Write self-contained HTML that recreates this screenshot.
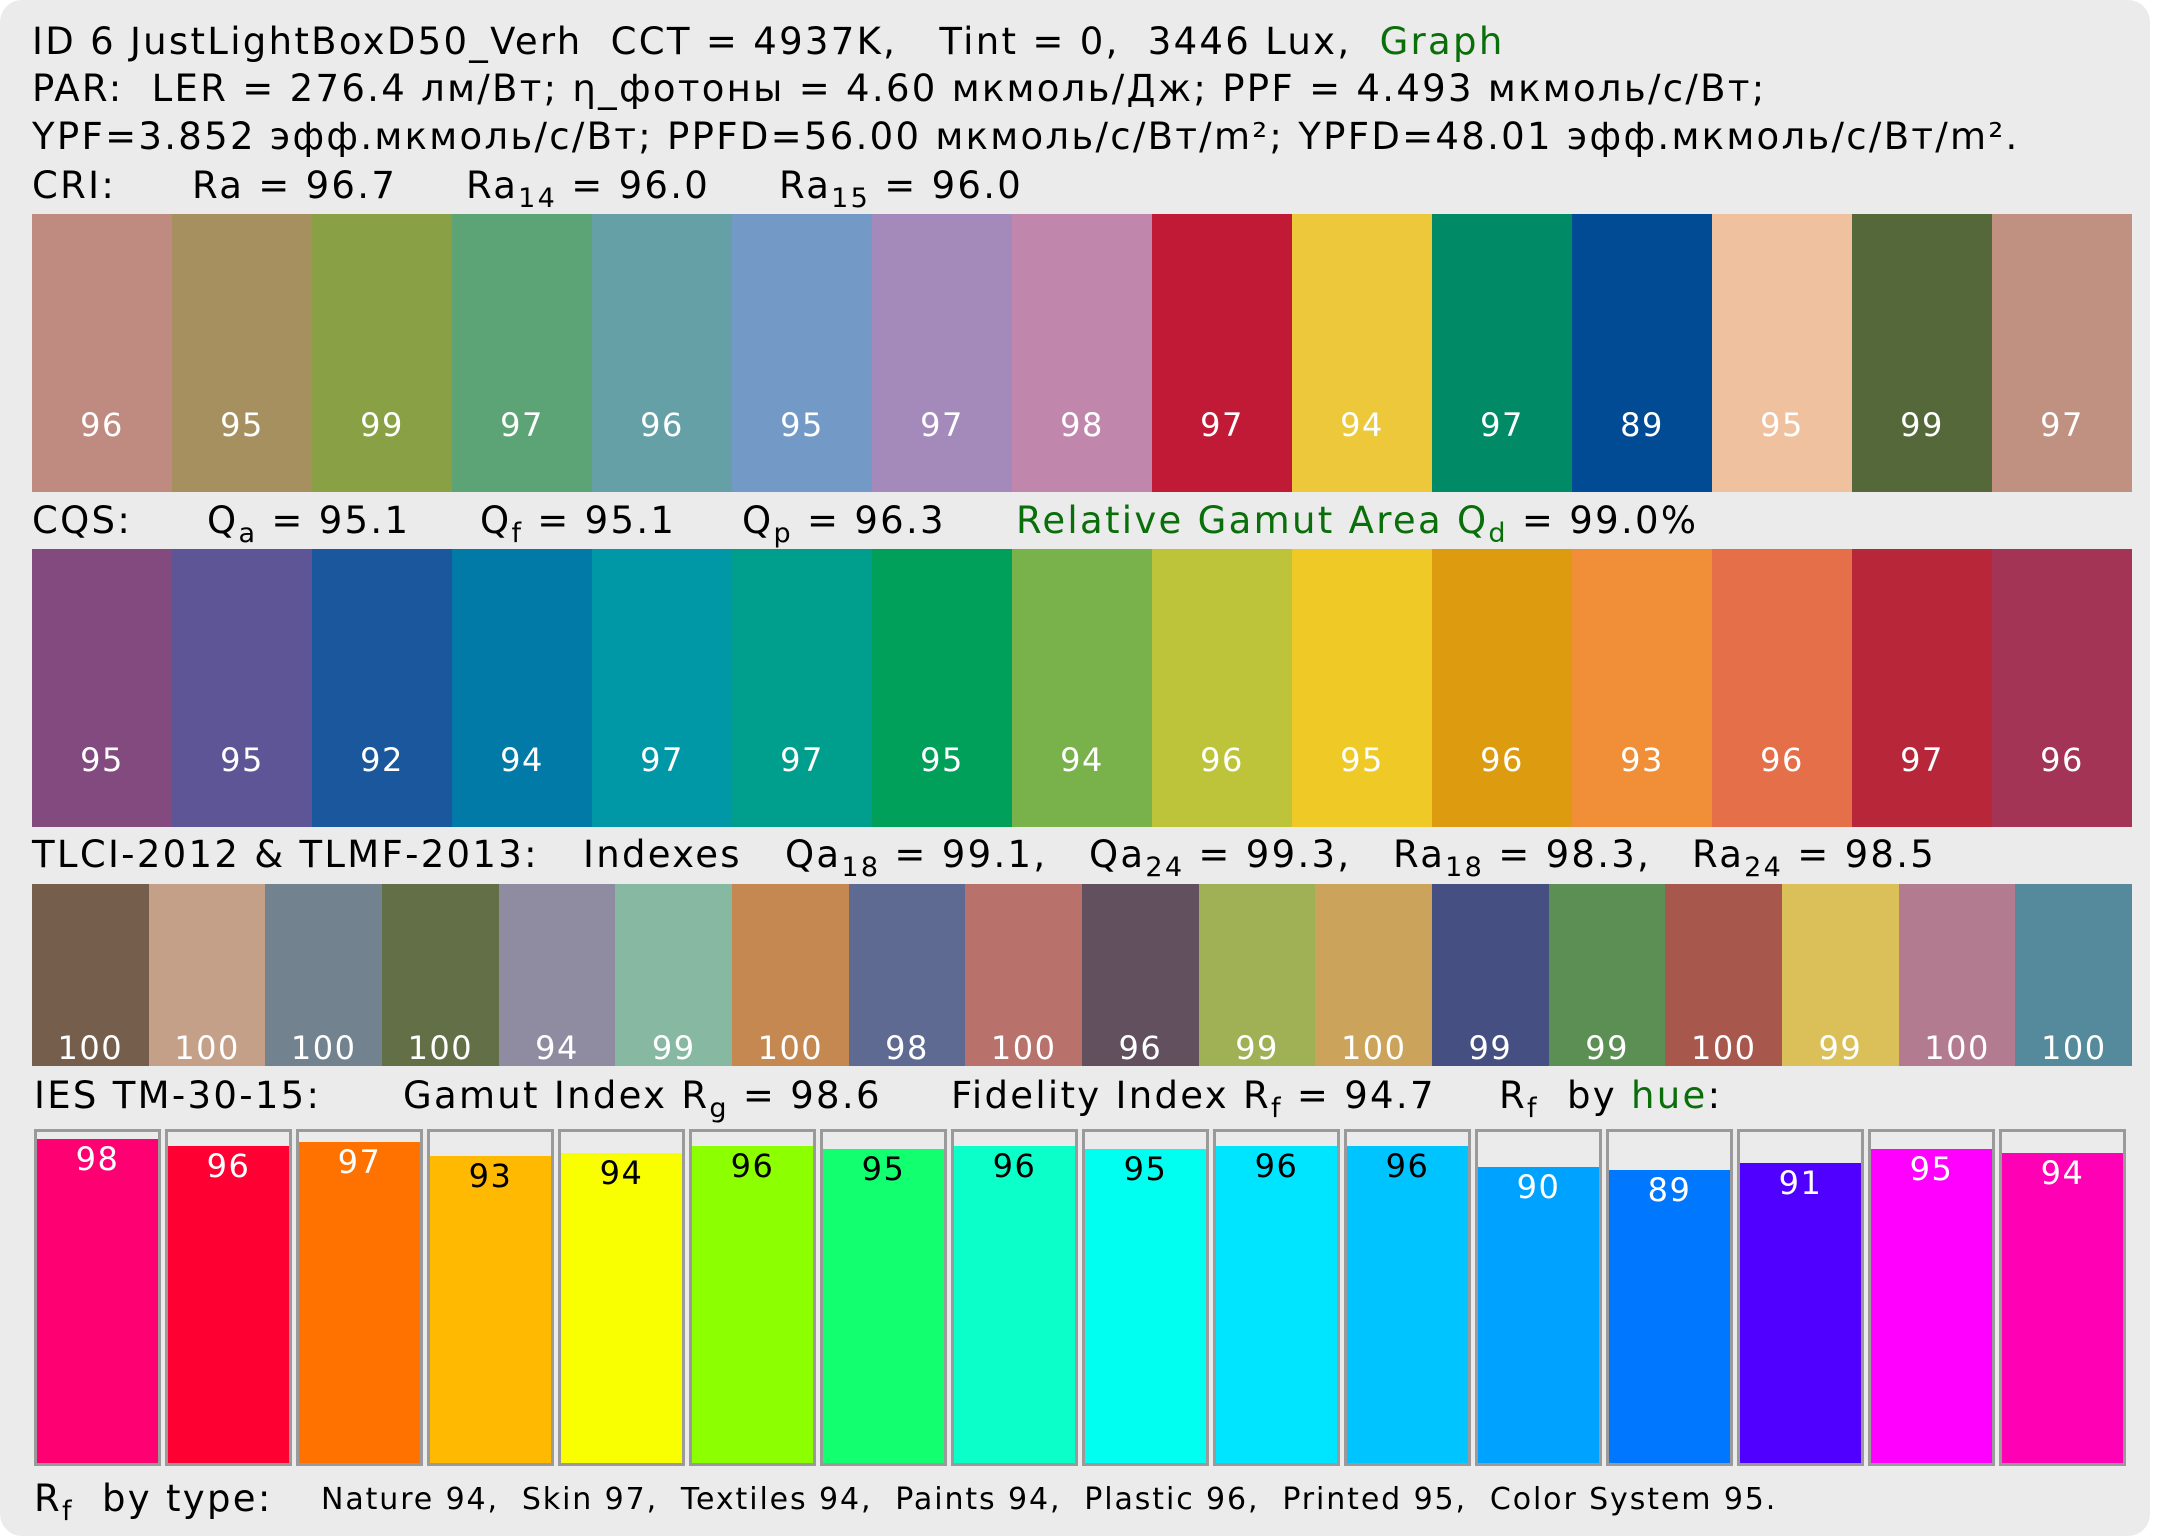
<!DOCTYPE html>
<html><head><meta charset="utf-8">
<style>
html,body{margin:0;padding:0;background:#fff;}
#p{position:absolute;left:0;top:0;width:2150px;height:1536px;background:#ebebeb;border-radius:22px;overflow:hidden;font-family:"DejaVu Sans","Liberation Sans",sans-serif;color:#000;}
.t{position:absolute;font-size:37px;line-height:44px;white-space:pre;letter-spacing:2.3px;}
.g{color:#0a6e0a;}
sub{font-size:27px;vertical-align:-9px;line-height:0;}
.row{position:absolute;left:32px;width:2100px;display:flex;}
.row div{flex:1;position:relative;color:#fff;font-size:32px;text-align:center;line-height:40px;letter-spacing:1.5px;}
.row div span{position:absolute;left:0;right:0;}
.bx{position:absolute;top:1129px;width:121px;height:331px;border:3px solid #9a9a9a;background:#ebebeb;}
.bx i{position:absolute;left:0;right:0;bottom:0;font-style:normal;font-size:32px;line-height:40px;text-align:center;letter-spacing:1.5px;}
</style></head><body><div id="p">
<div class="t" style="left:32px;top:20px">ID 6 JustLightBoxD50_Verh  CCT = 4937K,   Tint = 0,  3446 Lux,  <span class="g">Graph</span></div>
<div class="t" style="left:32px;top:67px">PAR:  LER = 276.4 лм/Вт; η_фотоны = 4.60 мкмоль/Дж; PPF = 4.493 мкмоль/с/Вт;</div>
<div class="t" style="left:32px;top:115px">YPF=3.852 эфф.мкмоль/с/Вт; PPFD=56.00 мкмоль/с/Вт/m²; YPFD=48.01 эфф.мкмоль/с/Вт/m².</div>
<div class="t" style="left:32px;top:164px">CRI:</div>
<div class="t" style="left:192px;top:164px">Ra = 96.7</div>
<div class="t" style="left:466px;top:164px">Ra<sub>14</sub> = 96.0</div>
<div class="t" style="left:779px;top:164px">Ra<sub>15</sub> = 96.0</div>

<div class="row" style="top:214px;height:278px">
<div style="background:#bf8a7f"><span style="top:191px">96</span></div>
<div style="background:#a6905f"><span style="top:191px">95</span></div>
<div style="background:#8aa045"><span style="top:191px">99</span></div>
<div style="background:#5ca376"><span style="top:191px">97</span></div>
<div style="background:#66a0a7"><span style="top:191px">96</span></div>
<div style="background:#7399c6"><span style="top:191px">95</span></div>
<div style="background:#a38abb"><span style="top:191px">97</span></div>
<div style="background:#c186ab"><span style="top:191px">98</span></div>
<div style="background:#c11a36"><span style="top:191px">97</span></div>
<div style="background:#ecc83a"><span style="top:191px">94</span></div>
<div style="background:#008b66"><span style="top:191px">97</span></div>
<div style="background:#004b93"><span style="top:191px">89</span></div>
<div style="background:#efc19f"><span style="top:191px">95</span></div>
<div style="background:#55683a"><span style="top:191px">99</span></div>
<div style="background:#c09080"><span style="top:191px">97</span></div>
</div>

<div class="t" style="left:32px;top:499px">CQS:</div>
<div class="t" style="left:207px;top:499px">Q<sub>a</sub> = 95.1</div>
<div class="t" style="left:480px;top:499px">Q<sub>f</sub> = 95.1</div>
<div class="t" style="left:742px;top:499px">Q<sub>p</sub> = 96.3</div>
<div class="t" style="left:1016px;top:499px"><span class="g">Relative Gamut Area Q</span><sub class="g">d</sub> = 99.0%</div>

<div class="row" style="top:549px;height:278px">
<div style="background:#834a7f"><span style="top:191px">95</span></div>
<div style="background:#5d5596"><span style="top:191px">95</span></div>
<div style="background:#1a579c"><span style="top:191px">92</span></div>
<div style="background:#017aa8"><span style="top:191px">94</span></div>
<div style="background:#0098a6"><span style="top:191px">97</span></div>
<div style="background:#009f8d"><span style="top:191px">97</span></div>
<div style="background:#00a05a"><span style="top:191px">95</span></div>
<div style="background:#79b14b"><span style="top:191px">94</span></div>
<div style="background:#bec43a"><span style="top:191px">96</span></div>
<div style="background:#efca26"><span style="top:191px">95</span></div>
<div style="background:#dd9c10"><span style="top:191px">96</span></div>
<div style="background:#f08f38"><span style="top:191px">93</span></div>
<div style="background:#e46f49"><span style="top:191px">96</span></div>
<div style="background:#b72639"><span style="top:191px">97</span></div>
<div style="background:#a33456"><span style="top:191px">96</span></div>
</div>

<div class="t" style="left:32px;top:833px">TLCI-2012 &amp; TLMF-2013:</div>
<div class="t" style="left:583px;top:833px">Indexes</div>
<div class="t" style="left:785px;top:833px">Qa<sub>18</sub> = 99.1,</div>
<div class="t" style="left:1089px;top:833px">Qa<sub>24</sub> = 99.3,</div>
<div class="t" style="left:1393px;top:833px">Ra<sub>18</sub> = 98.3,</div>
<div class="t" style="left:1692px;top:833px">Ra<sub>24</sub> = 98.5</div>

<div class="row" style="top:884px;height:182px">
<div style="background:#765e4c"><span style="top:144px">100</span></div>
<div style="background:#c4a088"><span style="top:144px">100</span></div>
<div style="background:#72838f"><span style="top:144px">100</span></div>
<div style="background:#626f47"><span style="top:144px">100</span></div>
<div style="background:#8f8ba0"><span style="top:144px">94</span></div>
<div style="background:#86b8a2"><span style="top:144px">99</span></div>
<div style="background:#c48850"><span style="top:144px">100</span></div>
<div style="background:#5e6a91"><span style="top:144px">98</span></div>
<div style="background:#b8716b"><span style="top:144px">100</span></div>
<div style="background:#62505f"><span style="top:144px">96</span></div>
<div style="background:#a0b055"><span style="top:144px">99</span></div>
<div style="background:#cca35a"><span style="top:144px">100</span></div>
<div style="background:#454f82"><span style="top:144px">99</span></div>
<div style="background:#5c8f53"><span style="top:144px">99</span></div>
<div style="background:#a7574c"><span style="top:144px">100</span></div>
<div style="background:#dbc05a"><span style="top:144px">99</span></div>
<div style="background:#b37b8f"><span style="top:144px">100</span></div>
<div style="background:#548a9b"><span style="top:144px">100</span></div>
</div>

<div class="t" style="left:34px;top:1074px">IES TM-30-15:</div>
<div class="t" style="left:403px;top:1074px">Gamut Index R<sub>g</sub> = 98.6</div>
<div class="t" style="left:951px;top:1074px">Fidelity Index R<sub>f</sub> = 94.7</div>
<div class="t" style="left:1499px;top:1074px">R<sub>f</sub>  by <span class="g">hue</span>:</div>

<div class="bx" style="left:34px"><i style="top:7px;background:#ff0073;color:#fff">98</i></div>
<div class="bx" style="left:165px"><i style="top:14px;background:#ff0032;color:#fff">96</i></div>
<div class="bx" style="left:296px"><i style="top:10px;background:#ff7200;color:#fff">97</i></div>
<div class="bx" style="left:427px"><i style="top:24px;background:#ffb900;color:#000">93</i></div>
<div class="bx" style="left:558px"><i style="top:21px;background:#f9ff00;color:#000">94</i></div>
<div class="bx" style="left:689px"><i style="top:14px;background:#8cff00;color:#000">96</i></div>
<div class="bx" style="left:820px"><i style="top:17px;background:#12ff6f;color:#000">95</i></div>
<div class="bx" style="left:951px"><i style="top:14px;background:#0bffc8;color:#000">96</i></div>
<div class="bx" style="left:1082px"><i style="top:17px;background:#00fff0;color:#000">95</i></div>
<div class="bx" style="left:1213px"><i style="top:14px;background:#00e5ff;color:#000">96</i></div>
<div class="bx" style="left:1344px"><i style="top:14px;background:#00c4ff;color:#000">96</i></div>
<div class="bx" style="left:1475px"><i style="top:35px;background:#00a2ff;color:#fff">90</i></div>
<div class="bx" style="left:1606px"><i style="top:38px;background:#0077ff;color:#fff">89</i></div>
<div class="bx" style="left:1737px"><i style="top:31px;background:#4f00ff;color:#fff">91</i></div>
<div class="bx" style="left:1868px"><i style="top:17px;background:#ff00ff;color:#fff">95</i></div>
<div class="bx" style="left:1999px"><i style="top:21px;background:#ff00b5;color:#fff">94</i></div>

<div class="t" style="left:34px;top:1477px">R<sub>f</sub>  by type:</div>
<div class="t" style="left:321px;top:1478px;font-size:30px;letter-spacing:1.9px">Nature 94,  Skin 97,  Textiles 94,  Paints 94,  Plastic 96,  Printed 95,  Color System 95.</div>
</div></body></html>
